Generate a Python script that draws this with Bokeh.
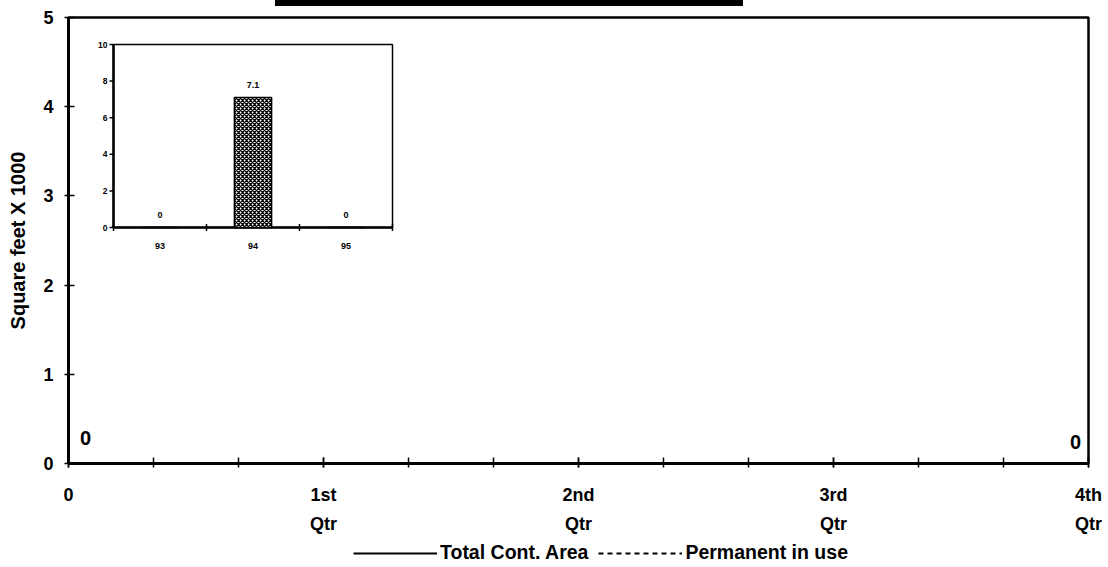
import math
from bokeh.plotting import figure
from bokeh.models import (Range1d, FixedTicker, Legend, LegendItem, LinearAxis,
                          ColumnDataSource, Column, Div)
from bokeh.core.properties import value
from bokeh.embed import file_html
from bokeh.resources import INLINE

FONT = "Liberation Sans"

# ---------------- data ----------------
quarters = [0, 1, 2, 3, 4]
quarter_labels = ["0", "1st", "2nd", "3rd", "4th"]
quarter_sub = ["", "Qtr", "Qtr", "Qtr", "Qtr"]
total_cont_area = [0, 0, 0, 0, 0]
permanent_in_use = [0, 0, 0, 0, 0]
y_ticks = [0, 1, 2, 3, 4, 5]
y_title = "Square feet X 1000"
series_names = ["Total Cont. Area", "Permanent in use"]

inset_years = ["93", "94", "95"]
inset_values = [0, 7.1, 0]
inset_y_ticks = [0, 2, 4, 6, 8, 10]

# ---------------- layout (figure pixels) ----------------
BAR_H = 6
M_LEFT, M_RIGHT, M_TOP, M_BOTTOM = 68, 14, 11, 77
FW, FH = 1020, 446                       # main frame size (px)
FX0, FX1 = M_LEFT, M_LEFT + FW
FY0, FY1 = M_TOP, M_TOP + FH
IX0, IX1, IY0, IY1 = 113, 392, 38, 221   # inset frame (px, top-down)
TOTAL_W = M_LEFT + FW + M_RIGHT
LEG_H = 26

SOLID = dict(line_color="black", line_width=2)
DASHED = dict(line_color="black", line_width=2, line_dash="5 4")

# ---------------- main chart ----------------
p = figure(frame_width=FW, frame_height=FH,
           x_range=Range1d(quarters[0], quarters[-1]),
           y_range=Range1d(y_ticks[0], y_ticks[-1]),
           output_backend="svg", toolbar_location=None,
           min_border_left=M_LEFT, min_border_right=M_RIGHT,
           min_border_top=M_TOP, min_border_bottom=M_BOTTOM)
p.grid.grid_line_color = None
p.outline_line_color = "black"
p.outline_line_width = 2.5
p.background_fill_color = "white"
p.border_fill_color = "white"

p.line(quarters, total_cont_area, **SOLID)
p.line(quarters, permanent_in_use, **DASHED)

lab = ColumnDataSource(dict(
    x=[quarters[0], quarters[-1]],
    y=[total_cont_area[0], total_cont_area[-1]],
    text=[f"{total_cont_area[0]:g}", f"{total_cont_area[-1]:g}"],
    dx=[17, -13], dy=[-26, -22]))
p.text(x="x", y="y", text="text", x_offset="dx", y_offset="dy", source=lab,
       text_align="center", text_baseline="middle", text_font=value(FONT),
       text_font_size="20px", text_font_style="bold", text_color="black")

xa = p.xaxis[0]
ya = p.yaxis[0]
xa.ticker = FixedTicker(ticks=quarters,
                        minor_ticks=[i / 3 for i in range(3 * len(quarters) - 2)])
xa.major_label_overrides = {q: l for q, l in zip(quarters, quarter_labels)}
ya.ticker = FixedTicker(ticks=y_ticks)
for ax in (xa, ya):
    ax.axis_line_width = 3
    ax.axis_line_color = "black"
    ax.major_tick_line_width = 1.5
    ax.major_tick_line_color = "black"
    ax.major_tick_in = 6
    ax.major_tick_out = 4
    ax.major_label_text_font = FONT
    ax.major_label_text_font_size = "18px"
    ax.major_label_text_font_style = "bold"
    ax.major_label_text_color = "black"
xa.minor_tick_in = 6
xa.minor_tick_out = 4
xa.minor_tick_line_width = 1.5
xa.minor_tick_line_color = "black"
xa.major_label_standoff = 17
ya.minor_tick_line_color = None
ya.major_label_standoff = 11
ya.axis_label = y_title
ya.axis_label_text_font = FONT
ya.axis_label_text_font_size = "20px"
ya.axis_label_text_font_style = "bold"
ya.axis_label_text_color = "black"
ya.axis_label_standoff = 11

xa2 = LinearAxis(ticker=FixedTicker(ticks=quarters),
                 major_label_overrides={q: s for q, s in zip(quarters, quarter_sub)},
                 axis_line_color=None, major_tick_line_color=None,
                 minor_tick_line_color=None, major_tick_in=0, major_tick_out=0,
                 major_label_standoff=6, major_label_text_font=FONT,
                 major_label_text_font_size="18px",
                 major_label_text_font_style="bold",
                 major_label_text_color="black")
p.add_layout(xa2, "below")

# ---------------- inset chart (own ranges, mapped into its rectangle) ----------------
n_cat = len(inset_years)
ix_scale = n_cat / (IX1 - IX0)                    # units per px
iy_top = inset_y_ticks[-1]
iy_scale = iy_top / (IY1 - IY0)
p.extra_x_ranges = {"ix": Range1d(0 - (IX0 - FX0) * ix_scale,
                                  n_cat + (FX1 - IX1) * ix_scale)}
p.extra_y_ranges = {"iy": Range1d(0 - (FY1 - IY1) * iy_scale,
                                  iy_top + (IY0 - FY0) * iy_scale)}
R = dict(x_range_name="ix", y_range_name="iy")

p.quad(left=0, right=n_cat, bottom=0, top=iy_top, fill_color="white",
       line_color="black", line_width=1.5, **R)
p.segment(x0=0, y0=0, x1=n_cat, y1=0, line_color="black", line_width=2.5, **R)
p.segment(x0=0, y0=0, x1=0, y1=iy_top, line_color="black", line_width=2.5, **R)

centers = [i + 0.5 for i in range(n_cat)]
p.vbar(x=centers, top=inset_values, width=0.4, fill_color="white",
       line_color="black", line_width=1.5, hatch_pattern="x",
       hatch_color="black", hatch_scale=4, hatch_weight=1.3, **R)
p.text(x=centers, y=inset_values, text=[f"{v:g}" for v in inset_values],
       y_offset=-10, text_align="center", text_baseline="bottom",
       text_font=value(FONT), text_font_size="9px", text_font_style="bold",
       text_color="black", **R)

p.ray(x=[0] * len(inset_y_ticks), y=inset_y_ticks, length=4,
      length_units="screen", angle=math.pi, line_color="black",
      line_width=1.5, **R)
p.text(x=[0] * len(inset_y_ticks), y=inset_y_ticks,
       text=[str(t) for t in inset_y_ticks], x_offset=-6,
       text_align="right", text_baseline="middle", text_font=value(FONT),
       text_font_size="8.5px", text_font_style="bold", text_color="black", **R)

bounds = list(range(n_cat + 1))
p.scatter(x=bounds, y=[0] * len(bounds), marker="dash", size=7,
          angle=math.pi / 2, line_color="black", line_width=1.5, **R)
p.text(x=centers, y=[0] * n_cat, text=inset_years, y_offset=18,
       text_align="center", text_baseline="middle", text_font=value(FONT),
       text_font_size="9px", text_font_style="bold", text_color="black", **R)

# ---------------- legend strip (own small canvas below the chart) ----------------
# the series are re-drawn here outside the visible range, only to feed the legend
lf = figure(width=TOTAL_W, height=LEG_H, x_range=Range1d(0, 1),
            y_range=Range1d(1, 2), x_axis_location=None, y_axis_location=None,
            output_backend="svg", toolbar_location=None, min_border=0,
            title=None)
lf.outline_line_color = None
lf.background_fill_color = "white"
lf.border_fill_color = "white"
lf.grid.visible = False
k1 = lf.line(quarters, total_cont_area, **SOLID)
k2 = lf.line(quarters, permanent_in_use, **DASHED)
legend = Legend(items=[LegendItem(label=series_names[0], renderers=[k1]),
                       LegendItem(label=series_names[1], renderers=[k2])],
                orientation="horizontal", location=(285, 2),
                glyph_width=84, glyph_height=20, label_standoff=3, spacing=10,
                padding=0, margin=0, border_line_color=None,
                background_fill_alpha=0, label_text_font=FONT,
                label_text_font_size="19.5px", label_text_font_style="bold",
                label_text_color="black")
lf.add_layout(legend)

# ---------------- cropped title box edge ----------------
bar = Div(text="", width=468, height=BAR_H, margin=(0, 0, 0, 275),
          styles={"background-color": "black"})

layout = Column(bar, p, lf, spacing=0)

open("out.html", "w").write(file_html(layout, INLINE))
